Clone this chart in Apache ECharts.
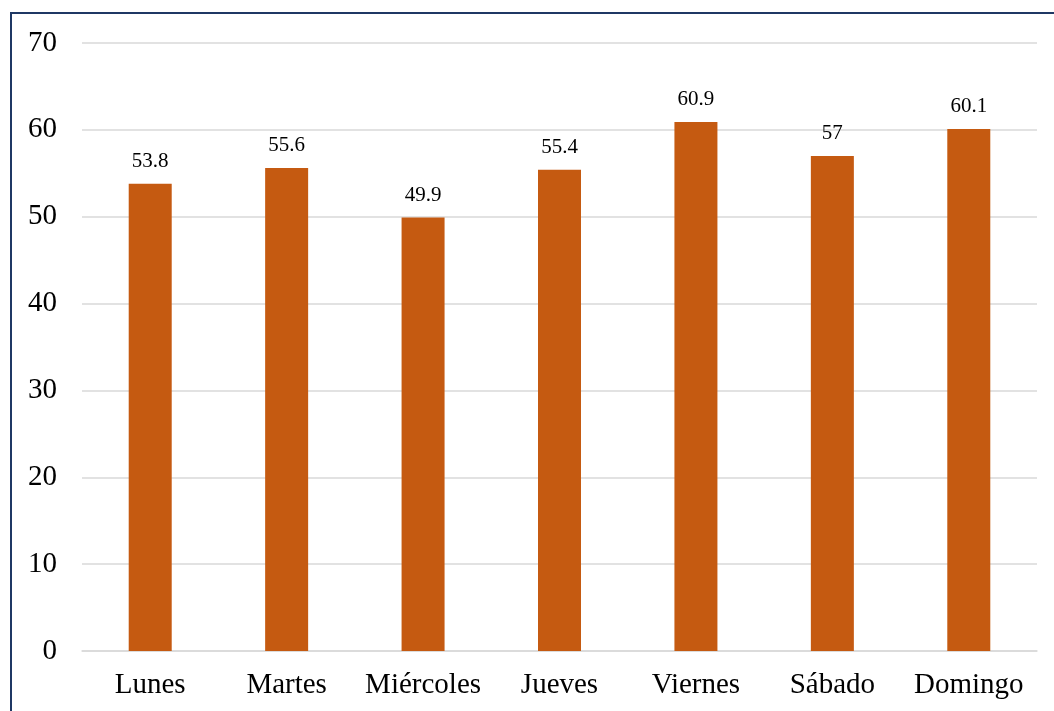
<!DOCTYPE html>
<html>
<head>
<meta charset="utf-8">
<script src="https://cdn.jsdelivr.net/npm/echarts@6/dist/echarts.min.js"></script>
<style>
  html, body { margin: 0; padding: 0; background: #fff; overflow: hidden; }
  #frame {
    position: absolute; left: 10px; top: 12px; width: 1060px; height: 720px;
    border: 2px solid #1F3864; box-sizing: border-box;
  }
  #main { position: absolute; left: 0; top: 0; width: 1054px; height: 711px; }
</style>
</head>
<body>
<div id="frame"></div>
<div id="main"></div>
<script>
// dias de la semana
var dias = ['Lunes', 'Martes', 'Miércoles', 'Jueves', 'Viernes', 'Sábado', 'Domingo'];
var valores = [53.8, 55.6, 49.9, 55.4, 60.9, 57, 60.1];
var ejeY = [0, 10, 20, 30, 40, 50, 60, 70];

var chart = echarts.init(document.getElementById('main'));
var fuente = '"Liberation Serif", "DejaVu Serif", serif';

var option = {
  animation: false,
  grid: {
    left: 82,
    right: 17,
    top: 43,
    bottom: 60
  },
  xAxis: {
    type: 'category',
    data: dias,
    axisLine: { show: true, lineStyle: { color: '#d9d9d9', width: 1.5 } },
    axisTick: { show: false },
    axisLabel: {
      interval: 0,
      hideOverlap: false,
      margin: 20,
      fontSize: 29,
      fontFamily: fuente,
      color: '#000'
    }
  },
  yAxis: {
    type: 'value',
    min: ejeY[0],
    max: ejeY[ejeY.length - 1],
    interval: 10,
    axisLine: { show: false },
    axisTick: { show: false },
    axisLabel: {
      margin: 25,
      fontSize: 29,
      fontFamily: fuente,
      color: '#000'
    },
    splitLine: { lineStyle: { color: '#d9d9d9', width: 1.5 } }
  },
  series: [{
    type: 'bar',
    data: valores,
    barWidth: 43,
    itemStyle: { color: '#C55A11' },
    label: {
      show: true,
      position: 'top',
      distance: 12,
      fontSize: 21,
      fontFamily: fuente,
      color: '#000'
    }
  }]
};

chart.setOption(option);
</script>
</body>
</html>
